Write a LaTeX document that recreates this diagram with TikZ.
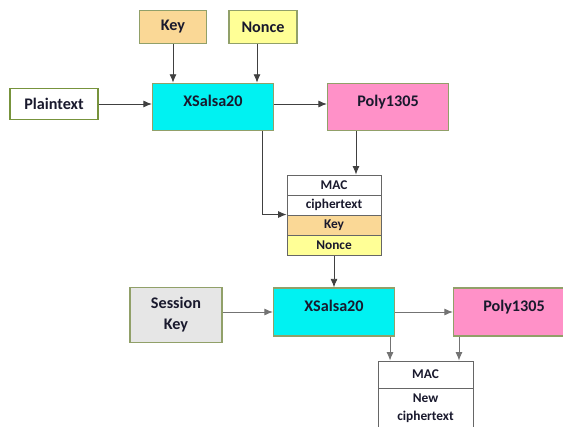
\documentclass[tikz,border=0pt]{standalone}
\usepackage{fontspec}
\setmainfont{Carlito}
\usepackage{xcolor}
\usetikzlibrary{positioning}
\usetikzlibrary{arrows.meta}
\definecolor{salsacyan}{RGB}{0,242,242}
\definecolor{polypink}{RGB}{255,145,200}
\definecolor{keyfill}{RGB}{250,216,150}
\definecolor{noncefill}{RGB}{255,255,150}
\definecolor{sessfill}{RGB}{230,230,230}
\definecolor{boxline}{RGB}{145,160,105}
\definecolor{plainline}{RGB}{119,147,60}
\definecolor{textdark}{RGB}{25,25,45}
\tikzset{	>={Latex[length=6pt,width=5pt]},
	every node/.style={
		font=\bfseries\fontsize{11.5}{13}\selectfont,
		text=textdark,
		inner sep=0pt,
		align=center},
	inbox/.style={
		draw=boxline,
		line width=1pt},
	cipher/.style={
		draw=boxline,
		line width=1pt,
		minimum width=3.025cm,
		minimum height=1.18cm,
		text depth=9pt},
	cell/.style={
		draw=gray!80!black,
		line width=0.7pt,
		fill=white,
		minimum width=2.35cm,
		minimum height=0.5cm,
		font=\bfseries\fontsize{9.5}{11}\selectfont},
	every edge/.style={
		draw,
		->,
		line width=0.6pt,
		black!75}
}
\begin{document}
\begin{tikzpicture}[x=0.025cm, y=-0.025cm]
	\useasboundingbox (0,0) rectangle (563,426);
	\clip (0,0) rectangle (563,426);
	% first pass
	\node[inbox, fill=keyfill, minimum width=1.675cm, minimum height=0.825cm] (key) at (173,27) {Key};
	\node[inbox, fill=noncefill, minimum width=1.7cm, minimum height=0.825cm] (nonce) at (263,27) {Nonce};
	\node[inbox, draw=plainline, fill=white, minimum width=2.2cm, minimum height=0.775cm] (plain) at (54,104) {Plaintext};
	\node[cipher, fill=salsacyan] (xs1) at (213,107) {XSalsa20};
	\node[cipher, fill=polypink] (poly1) at (388,107) {Poly1305};
	% stacked message
	\node[cell] (mac1) at (334,185) {MAC};
	\node[cell, below of = mac1, node distance=0.5cm] (ct1) {ciphertext};
	\node[cell, fill=keyfill, below of = ct1, node distance=0.5cm] (kr) {Key};
	\node[cell, fill=noncefill, below of = kr, node distance=0.5cm] (nr) {Nonce};
	% second pass
	\node[inbox, fill=sessfill, minimum width=2.3cm, minimum height=1.375cm] (skey) at (176,315) {Session\\[2pt]Key};
	\node[cipher, fill=salsacyan, minimum height=1.2cm] (xs2) at (334,312) {XSalsa20};
	\node[cipher, fill=polypink, minimum height=1.2cm] (poly2) at (514,312) {Poly1305};
	\node[cell, minimum width=2.375cm, minimum height=0.675cm] (mac2) at (425.5,374.5) {MAC};
	\node[cell, minimum width=2.375cm, minimum height=1.0cm, below of = mac2, node distance=0.8375cm] (ct2) {New\\[2pt]ciphertext};
	% connectors
	\draw (key) edge (key |- xs1.north);
	\draw ([xshift=-0.15cm]nonce.south) edge ([xshift=-0.15cm]nonce.south |- xs1.north);
	\draw (plain) edge (plain -| xs1.west);
	\draw (xs1.east |- plain) edge (poly1.west |- plain);
	\draw[->, line width=0.6pt, black!75] ([xshift=1.225cm]xs1.south) |- (kr.north west);
	\draw ([xshift=-0.8cm]poly1.south) edge ([xshift=-0.8cm]poly1.south |- mac1.north);
	\draw (nr) edge (xs2);
	\draw[every edge/.append style={black!55}] (skey.east |- xs2.west) edge (xs2.west);
	\draw[every edge/.append style={black!55}] (xs2) edge (poly2);
	\draw[every edge/.append style={black!55}] ([xshift=1.4cm]xs2.south) edge ([xshift=1.4cm]xs2.south |- mac2.north);
	\draw[every edge/.append style={black!55}] ([xshift=-1.375cm]poly2.south) edge ([xshift=-1.375cm]poly2.south |- mac2.north);
\end{tikzpicture}
\end{document}
